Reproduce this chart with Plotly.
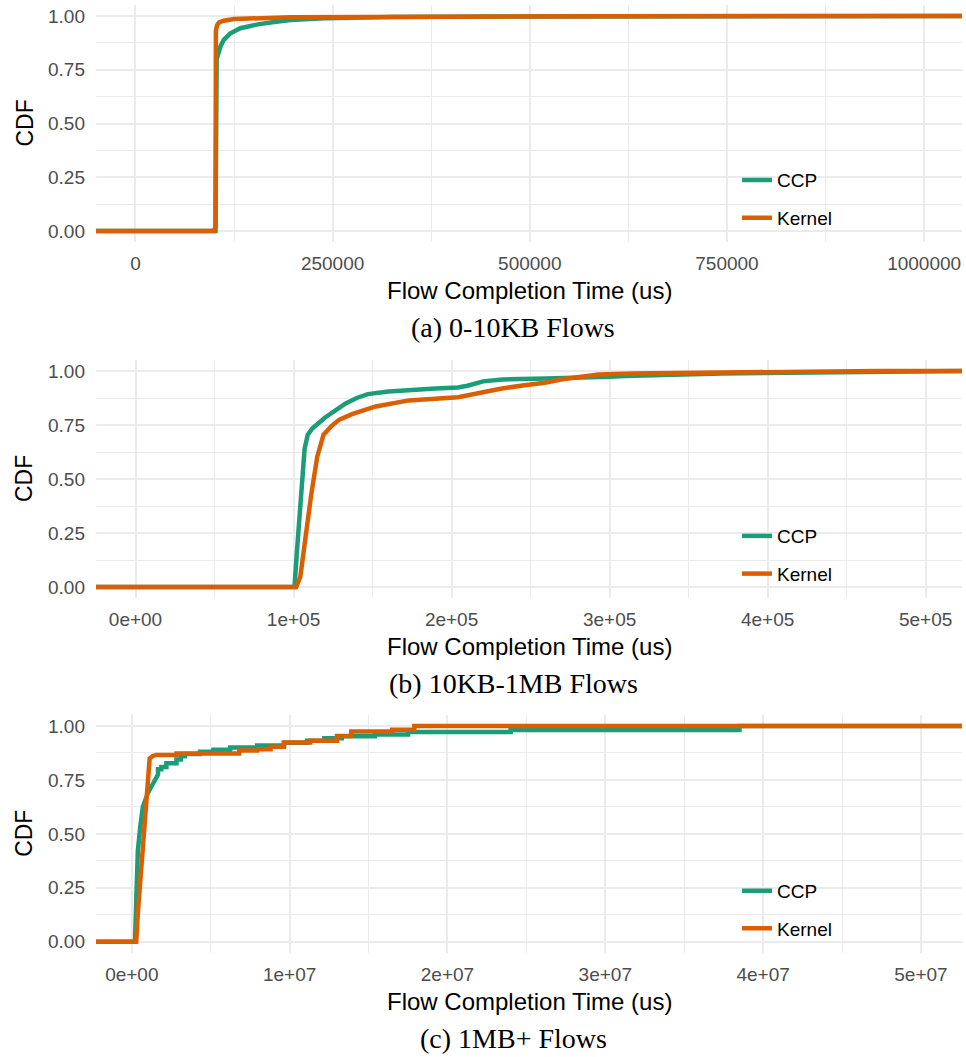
import plotly.graph_objects as go

# ---- data: empirical CDFs of flow completion time (us) ----
# (a) 0-10KB flows
a_ccp_x = [101500, 103000, 106000, 108000, 112000, 120000, 133000, 155000, 176000,
           197000, 240000, 325000, 500000, 800000, 1000000]
a_ccp_y = [0.0, 0.80, 0.845, 0.86, 0.889, 0.918, 0.943, 0.961, 0.972,
           0.981, 0.989, 0.995, 0.998, 0.999, 1.0]
a_ker_x = [99500, 101500, 102000, 103500, 106000, 112000, 125000, 197000, 324000,
           600000, 1000000]
a_ker_y = [0.0, 0.02, 0.93, 0.957, 0.97, 0.978, 0.986, 0.994, 0.997, 0.999, 1.0]

# (b) 10KB-1MB flows
b_ccp_x = [100600, 102000, 103500, 105000, 107000, 109000, 112000, 120000, 127000,
           133000, 140000, 147000, 160000, 176000, 190000, 204000, 210000, 220000,
           232000, 260000, 287000, 300000, 310000, 343000, 371000, 412000, 468000, 500000]
b_ccp_y = [0.0, 0.15, 0.32, 0.48, 0.64, 0.705, 0.735, 0.785, 0.82,
           0.85, 0.875, 0.893, 0.905, 0.914, 0.919, 0.924, 0.932, 0.952,
           0.961, 0.965, 0.968, 0.973, 0.977, 0.984, 0.988, 0.992, 0.997, 1.0]
b_ker_x = [101700, 104300, 107500, 111000, 115000, 119000, 124000, 129000, 137000,
           148000, 152000, 173000, 190000, 204000, 212000, 218000, 231000, 245000,
           259000, 270000, 282000, 293000, 315000, 371000, 426000, 470000]
b_ker_y = [0.0, 0.048, 0.233, 0.418, 0.603, 0.705, 0.745, 0.775, 0.80,
           0.825, 0.836, 0.864, 0.873, 0.879, 0.89, 0.90, 0.918, 0.933,
           0.946, 0.962, 0.975, 0.984, 0.989, 0.994, 0.997, 1.0]

# (c) 1MB+ flows: path vertices, steps written as repeated x
c_ccp_x = [2.0e5, 2.8e5, 3.8e5, 5.3e5, 7.0e5, 1.02e6, 1.34e6, 1.5e6, 1.66e6,
           1.66e6, 1.87e6, 1.87e6, 2.19e6, 2.19e6, 2.83e6, 2.83e6, 3.1e6, 3.1e6,
           3.36e6, 3.36e6, 4.32e6, 4.32e6, 5.17e6, 5.17e6, 6.23e6, 6.23e6,
           7.94e6, 7.94e6, 9.64e6, 9.64e6, 1.11e7, 1.11e7, 1.22e7, 1.22e7,
           1.33e7, 1.33e7, 1.54e7, 1.54e7, 1.75e7, 1.75e7, 2.4e7, 2.4e7,
           3.85e7, 3.85e7]
c_ccp_y = [0.0, 0.19, 0.42, 0.53, 0.625, 0.69, 0.735, 0.755, 0.775,
           0.80, 0.80, 0.81, 0.81, 0.827, 0.827, 0.845, 0.845, 0.86,
           0.86, 0.87, 0.87, 0.88, 0.88, 0.89, 0.89, 0.90,
           0.90, 0.91, 0.91, 0.922, 0.922, 0.932, 0.932, 0.943,
           0.943, 0.953, 0.953, 0.961, 0.961, 0.972, 0.972, 0.981,
           0.981, 1.0]
c_ker_x = [2.8e5, 3.8e5, 5.5e5, 7.0e5, 8.4e5, 9.8e5, 1.13e6, 1.34e6, 1.55e6,
           2.83e6, 2.83e6, 6.8e6, 6.8e6, 7.94e6, 7.94e6, 8.79e6, 8.79e6,
           9.64e6, 9.64e6, 1.13e7, 1.13e7, 1.30e7, 1.30e7, 1.39e7, 1.39e7,
           1.65e7, 1.65e7, 1.79e7, 1.79e7]
c_ker_y = [0.0, 0.13, 0.30, 0.425, 0.58, 0.72, 0.85, 0.861, 0.866,
           0.866, 0.873, 0.873, 0.886, 0.886, 0.892, 0.892, 0.904,
           0.904, 0.923, 0.923, 0.932, 0.932, 0.954, 0.954, 0.974,
           0.974, 0.982, 0.982, 1.0]

series_names = ["CCP", "Kernel"]
series_colors = ["#1B9E77", "#D95F02"]

y_ticks = [0, 0.25, 0.5, 0.75, 1.0]
y_ticktext = ["0.00", "0.25", "0.50", "0.75", "1.00"]

a_ticks = [0, 250000, 500000, 750000, 1000000]
a_ticktext = ["0", "250000", "500000", "750000", "1000000"]
b_ticks = [0, 1e5, 2e5, 3e5, 4e5, 5e5]
b_ticktext = ["0e+00", "1e+05", "2e+05", "3e+05", "4e+05", "5e+05"]
c_ticks = [0, 1e7, 2e7, 3e7, 4e7, 5e7]
c_ticktext = ["0e+00", "1e+07", "2e+07", "3e+07", "4e+07", "5e+07"]

captions = ["(a) 0-10KB Flows", "(b) 10KB-1MB Flows", "(c) 1MB+ Flows"]

# ---- layout geometry ----
W, H = 966, 1057
PLOT_L, PLOT_R = 96, 962
panels = [
    dict(top=5.25, bottom=241.75, xr=[-50000, 1048000], ticks=a_ticks, text=a_ticktext,
         minor=125000, data=[(a_ccp_x, a_ccp_y), (a_ker_x, a_ker_y)]),
    dict(top=360.2, bottom=597.8, xr=[-25000, 523000], ticks=b_ticks, text=b_ticktext,
         minor=50000, data=[(b_ccp_x, b_ccp_y), (b_ker_x, b_ker_y)]),
    dict(top=715.2, bottom=952.5, xr=[-2.27e6, 5.26e7], ticks=c_ticks, text=c_ticktext,
         minor=5e6, data=[(c_ccp_x, c_ccp_y), (c_ker_x, c_ker_y)]),
]

SANS = "Liberation Sans"
SERIF = "Liberation Serif"
GRID = "#EBEBEB"
TICKCOL = "#4D4D4D"

fig = go.Figure()
annotations = []
layout = dict(width=W, height=H, margin=dict(l=0, r=0, t=0, b=0),
              paper_bgcolor="white", plot_bgcolor="white", showlegend=True)

for i, p in enumerate(panels):
    n = "" if i == 0 else str(i + 1)
    xa, ya = "x" + n, "y" + n
    lg = "legend" + n
    x0, x1 = p["xr"]
    for (xs, ys), name, col in zip(p["data"], series_names, series_colors):
        # ECDF padded out to both panel edges
        xx = [x0] + list(xs) + [x1]
        yy = [0.0] + list(ys) + [1.0]
        fig.add_trace(go.Scatter(
            x=xx, y=yy, mode="lines", name=name, xaxis=xa, yaxis=ya,
            line=dict(color=col, width=4.5),
            legend=lg, legendgroup=f"{i}-{name}", showlegend=True,
            hoverinfo="skip"))

    dom_y = [1 - p["bottom"] / H, 1 - p["top"] / H]
    layout["xaxis" + n] = dict(
        domain=[PLOT_L / W, PLOT_R / W], range=p["xr"], anchor=ya,
        tickvals=p["ticks"], ticktext=p["text"], showgrid=True, gridcolor=GRID,
        gridwidth=1.8, zeroline=False, showline=False, ticks="",
        ticklabelstandoff=8,
        tickfont=dict(family=SANS, size=19, color=TICKCOL),
        minor=dict(dtick=p["minor"], tick0=0, showgrid=True, gridcolor=GRID, gridwidth=1))
    layout["yaxis" + n] = dict(
        domain=dom_y, range=[-0.05, 1.05], anchor=xa,
        tickvals=y_ticks, ticktext=y_ticktext, showgrid=True, gridcolor=GRID,
        gridwidth=1.8, zeroline=False, showline=False, ticks="",
        ticklabelstandoff=10,
        tickfont=dict(family=SANS, size=19, color=TICKCOL),
        minor=dict(dtick=0.125, tick0=0, showgrid=True, gridcolor=GRID, gridwidth=1))

    zero_px = p["bottom"] - (p["bottom"] - p["top"]) * 0.05 / 1.1
    one_px = p["top"] + (p["bottom"] - p["top"]) * 0.05 / 1.1
    leg_mid = zero_px - (zero_px - one_px) * 0.185 + 8

    layout[lg] = dict(
        x=737 / W, xanchor="left", y=1 - leg_mid / H, yanchor="middle",
        bgcolor="rgba(0,0,0,0)", font=dict(family=SANS, size=19, color="black"),
        tracegroupgap=10, traceorder="grouped", itemwidth=30)

    mid_y = (p["top"] + p["bottom"]) / 2
    annotations.append(dict(
        text="Flow Completion Time (us)", x=(PLOT_L + PLOT_R) / 2 / W,
        y=1 - (p["bottom"] + 49) / H, xref="paper", yref="paper",
        xanchor="center", yanchor="middle", showarrow=False,
        font=dict(family=SANS, size=24, color="black")))
    annotations.append(dict(
        text="CDF", x=24 / W, y=1 - mid_y / H, xref="paper", yref="paper",
        xanchor="center", yanchor="middle", textangle=-90, showarrow=False,
        font=dict(family=SANS, size=23, color="black")))
    annotations.append(dict(
        text=captions[i], x=513 / W, y=1 - (p["bottom"] + 86) / H,
        xref="paper", yref="paper", xanchor="center", yanchor="middle",
        showarrow=False, font=dict(family=SERIF, size=28, color="black")))

layout["annotations"] = annotations
fig.update_layout(**layout)
fig.write_html("out.html")
